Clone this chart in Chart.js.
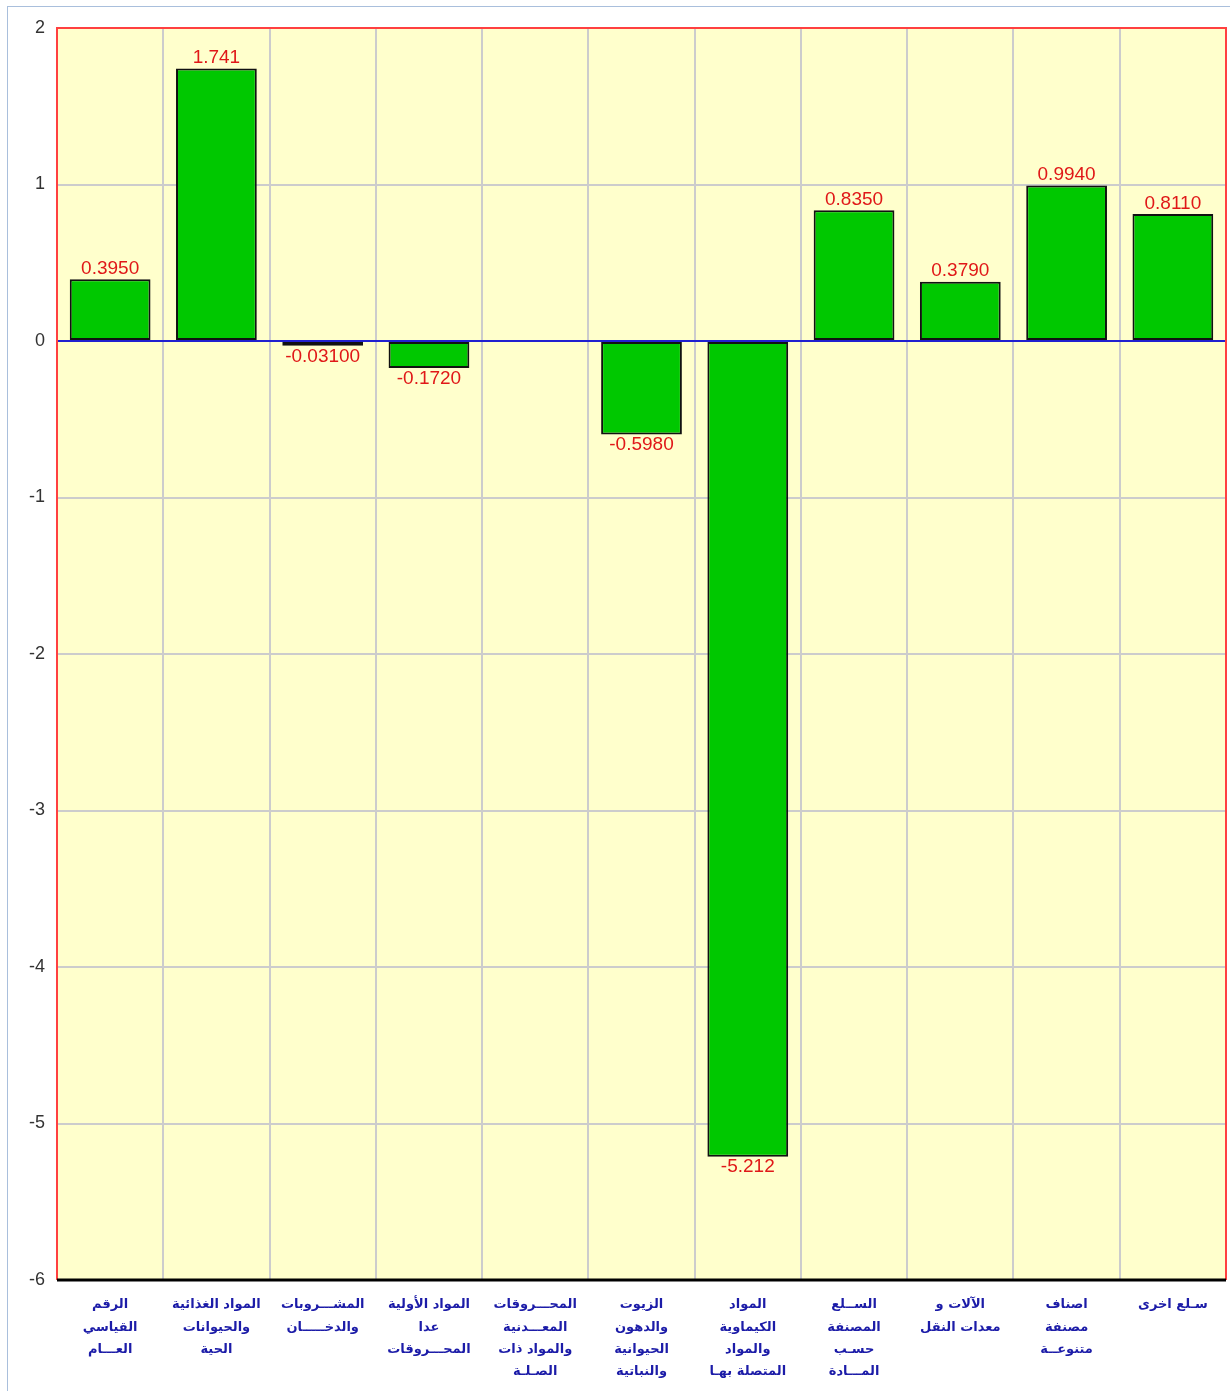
<!DOCTYPE html>
<html>
<head>
<meta charset="utf-8">
<script src="https://cdn.jsdelivr.net/npm/chart.js@4/dist/chart.umd.min.js"></script>
<style>
  html, body { margin: 0; padding: 0; background: #fff; }
  #wrap { position: relative; width: 1230px; height: 1391px; }
  #frame { position: absolute; left: 7px; top: 6px; right: 0; bottom: 0;
           border-top: 1px solid #a9bfdc; border-left: 1px solid #a9bfdc; }
  canvas { position: absolute; left: 0; top: 0; }
</style>
</head>
<body>
<div id="wrap">
  <div id="frame"></div>
  <canvas id="myChart" width="1230" height="1391"></canvas>
</div>
<script>
// categories (Arabic, one array per line-wrapped label)
const categories = [
  ['الرقم', 'القياسي', 'العـــام'],
  ['المواد الغذائية', 'والحيوانات', 'الحية'],
  ['المشـــروبات', 'والدخـــــان'],
  ['المواد الأولية', 'عدا', 'المحـــروقات'],
  ['المحـــروقات', 'المعـــدنية', 'والمواد ذات', 'الصـلـة'],
  ['الزيوت', 'والدهون', 'الحيوانية', 'والنباتية'],
  ['المواد', 'الكيماوية', 'والمواد', 'المتصلة بهـا'],
  ['الســلع', 'المصنفة', 'حسـب', 'المـــادة'],
  ['الآلات و', 'معدات النقل'],
  ['اصناف', 'مصنفة', 'متنوعــة'],
  ['سـلع اخرى']
];
const values = [0.395, 1.741, -0.031, -0.172, null, -0.598, -5.212, 0.835, 0.379, 0.994, 0.811];
const yTicks = [2, 1, 0, -1, -2, -3, -4, -5, -6];

const plotFrame = {
  id: 'plotFrame',
  beforeDraw(chart) {
    const { ctx, chartArea: a } = chart;
    ctx.save();
    ctx.fillStyle = '#ffffcc';
    ctx.fillRect(a.left, a.top, a.right - a.left, a.bottom - a.top);
    ctx.restore();
  },
  beforeDatasetsDraw(chart) {
    const { ctx, chartArea: a, scales } = chart;
    const y0 = scales.y.getPixelForValue(0);
    ctx.save();
    ctx.strokeStyle = '#2020d0';
    ctx.lineWidth = 2;
    ctx.beginPath();
    ctx.moveTo(a.left, y0);
    ctx.lineTo(a.right, y0);
    ctx.stroke();
    ctx.restore();
  },
  afterDatasetsDraw(chart) {
    const { ctx, chartArea: a } = chart;
    ctx.save();
    ctx.strokeStyle = '#ff4040';
    ctx.lineWidth = 2;
    ctx.beginPath();
    ctx.moveTo(a.left, a.bottom);
    ctx.lineTo(a.left, a.top);
    ctx.lineTo(a.right, a.top);
    ctx.lineTo(a.right, a.bottom);
    ctx.stroke();
    ctx.strokeStyle = '#000';
    ctx.lineWidth = 3;
    ctx.beginPath();
    ctx.moveTo(a.left, a.bottom);
    ctx.lineTo(a.right, a.bottom);
    ctx.stroke();

    // value labels
    const meta = chart.getDatasetMeta(0);
    ctx.fillStyle = '#e01818';
    ctx.font = '19px "Liberation Sans", Arial, sans-serif';
    ctx.textAlign = 'center';
    meta.data.forEach((bar, i) => {
      const v = values[i];
      if (v === null) return;
      const txt = v.toPrecision(4);
      if (v >= 0) {
        ctx.textBaseline = 'bottom';
        ctx.fillText(txt, bar.x, bar.y - 1);
      } else {
        ctx.textBaseline = 'top';
        ctx.fillText(txt, bar.x, bar.y + 1);
      }
    });
    ctx.restore();
  }
};

const ctx = document.getElementById('myChart').getContext('2d');
const myChart = new Chart(ctx, {
  type: 'bar',
  data: {
    labels: categories,
    datasets: [{
      data: values,
      backgroundColor: '#00c800',
      borderColor: '#111',
      borderWidth: 2,
      borderSkipped: false,
      barPercentage: 0.76,
      categoryPercentage: 1
    }]
  },
  options: {
    responsive: false,
    animation: false,
    layout: { padding: { top: 28, right: 4, left: 0, bottom: 0 } },
    plugins: { legend: { display: false }, tooltip: { enabled: false } },
    scales: {
      x: {
        grid: { color: '#cccccc', lineWidth: 2, drawTicks: false, offset: true },
        border: { display: false },
        ticks: {
          color: '#1c1ca8',
          font: { family: '"DejaVu Sans", Tahoma, sans-serif', size: 13, weight: 'bold', lineHeight: 1.7 },
          padding: 14,
          maxRotation: 0,
          autoSkip: false
        },
        afterFit(scale) { scale.height = 111; }
      },
      y: {
        min: -6,
        max: 2,
        afterBuildTicks(scale) { scale.ticks = yTicks.map(v => ({ value: v })); },
        grid: { color: '#cccccc', lineWidth: 2, drawTicks: false },
        border: { display: false },
        ticks: {
          color: '#333',
          font: { family: '"Liberation Sans", Arial, sans-serif', size: 18 },
          padding: 12
        },
        afterFit(scale) { scale.width = 57; }
      }
    }
  },
  plugins: [plotFrame]
});
</script>
</body>
</html>
